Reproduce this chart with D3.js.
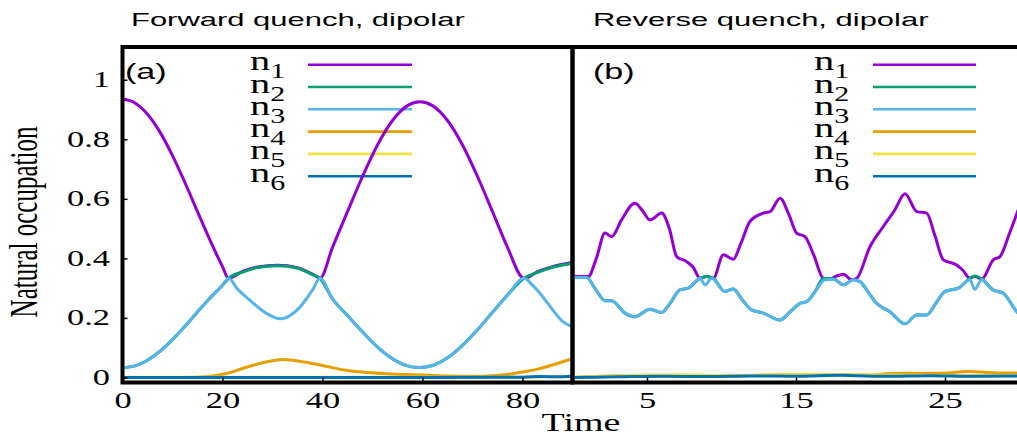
<!DOCTYPE html>
<html>
<head>
<meta charset="utf-8">
<script src="https://cdn.jsdelivr.net/npm/d3@7"></script>
<style>
body { margin: 0; background: #fff; }
svg { display: block; }
</style>
</head>
<body>
<div id="chart"></div>
<script>
// ---- data: panel (a) forward quench ----
var tA1 = [0,2.5,5,7.5,10,12.5,15,17.5,20,21.2,24,27,31,35,38,39.5,42,45,48,51,54,57,59.5,62,65,68,71,74,77,80.3,83,86,89.7];
var n1A = [0.935,0.922,0.884,0.824,0.745,0.654,0.557,0.461,0.372,0.333,0.356,0.371,0.377,0.369,0.347,0.333,0.437,0.557,0.675,0.781,0.863,0.913,0.926,0.913,0.863,0.781,0.675,0.557,0.437,0.333,0.355,0.372,0.385];
var tA2 = [0,2.5,5,7.5,10,12.5,15,17.5,20,21.2,24,27,31,35,38,39.5,42,45,48,51,54,57,59.5,62,65,68,71,74,77,80.3,83,86,89.7];
var n2A = [0.033,0.039,0.058,0.088,0.127,0.172,0.22,0.267,0.31,0.333,0.354,0.369,0.375,0.367,0.345,0.333,0.264,0.208,0.153,0.102,0.063,0.039,0.033,0.04,0.066,0.108,0.16,0.219,0.277,0.333,0.353,0.37,0.383];
var tA3 = [0,2.5,5,7.5,10,12.5,15,17.5,20,21.2,23,25.3,28.7,31.5,35.3,38,39.5,42,45,48,51,54,57,59.5,62,65,68,71,74,77,80.3,82,84,86,88,89.7];
var n3A = [0.033,0.039,0.058,0.088,0.127,0.172,0.22,0.267,0.31,0.333,0.297,0.262,0.216,0.197,0.233,0.294,0.333,0.264,0.208,0.153,0.102,0.063,0.039,0.033,0.04,0.066,0.108,0.16,0.219,0.277,0.333,0.31,0.272,0.228,0.188,0.172];
var tA4 = [0,10,15,18,21,24,27,30,32,34,37,40,44,48,52,56,60,65,70,74,77,80,83,86,89.7];
var n4A = [0,0,0.001,0.005,0.014,0.03,0.045,0.056,0.06,0.058,0.05,0.04,0.026,0.018,0.013,0.01,0.008,0.005,0.004,0.006,0.01,0.018,0.028,0.042,0.062];
var tA5 = [0,20,40,60,80,84,87,89.7];
var n5A = [0.001,0.001,0.001,0.001,0.001,0.002,0.002,0.003];
var n6A = [0,0,0,0,0.001,0.003,0.002,0.004];

// ---- data: panel (b) reverse quench ----
var tB1 = [0,1.06,1.6,2.18,2.63,3.3,4.19,4.7,5.2,5.98,6.5,6.99,7.66,8.1,8.56,9.0,9.45,10.12,10.79,11.3,11.91,12.81,13.26,13.93,14.5,15.04,15.6,16.2,16.83,17.28,17.7,18.18,18.74,19.07,19.97,20.86,21.6,22.32,23.1,23.77,24.3,24.89,25.78,26.2,26.68,27.0,27.46,28.24,28.69,29.3,30];
var n1B = [0.339,0.339,0.40,0.485,0.473,0.53,0.585,0.56,0.529,0.552,0.5,0.406,0.389,0.37,0.333,0.339,0.333,0.412,0.397,0.45,0.524,0.552,0.557,0.602,0.55,0.485,0.473,0.41,0.333,0.330,0.34,0.347,0.328,0.333,0.44,0.507,0.56,0.617,0.557,0.552,0.48,0.395,0.378,0.36,0.333,0.34,0.330,0.395,0.406,0.48,0.575];
var tB2 = [0,0.95,1.5,2.18,2.63,3.52,4.19,5.2,5.98,6.55,7.21,7.77,8.56,9.0,9.45,10.23,10.79,11.4,12.02,12.81,13.93,14.6,15.27,15.72,16.3,16.83,17.28,17.6,18.18,18.85,19.3,19.8,20.41,21.3,22.32,23.1,23.77,24.4,25.0,25.9,26.68,27.0,27.46,28.24,28.91,29.81,30];
var n2B = [0.336,0.336,0.30,0.258,0.258,0.216,0.204,0.229,0.218,0.249,0.294,0.3,0.333,0.339,0.333,0.289,0.297,0.26,0.227,0.216,0.193,0.22,0.249,0.255,0.29,0.332,0.332,0.33,0.311,0.328,0.322,0.29,0.249,0.221,0.18,0.21,0.21,0.25,0.289,0.3,0.333,0.341,0.331,0.294,0.283,0.221,0.21];
var tB3 = [0,0.95,1.5,2.18,2.63,3.52,4.19,5.2,5.98,6.55,7.21,7.77,8.56,8.9,9.34,10.23,10.79,11.4,12.02,12.81,13.93,14.6,15.27,15.72,16.3,16.94,17.5,18.18,18.85,19.3,19.8,20.41,21.3,22.32,23.1,23.77,24.4,25.0,25.9,26.68,27.0,27.46,28.24,28.91,29.81,30];
var n3B = [0.336,0.336,0.30,0.258,0.258,0.216,0.204,0.229,0.218,0.249,0.294,0.3,0.333,0.311,0.333,0.289,0.297,0.26,0.227,0.216,0.193,0.22,0.249,0.255,0.29,0.328,0.33,0.311,0.328,0.322,0.29,0.249,0.221,0.18,0.21,0.21,0.25,0.289,0.3,0.328,0.296,0.328,0.294,0.283,0.221,0.21];
var tB4 = [0,2,5,8,11,14,17,20,21,22.5,24,25.5,26.5,27.5,28.5,30];
var n4B = [0,0.004,0.007,0.007,0.006,0.009,0.009,0.008,0.012,0.014,0.014,0.016,0.02,0.018,0.015,0.015];
var tB5 = [0,2,5,8,11,14,17,20,23,26,30];
var n5B = [0,0.004,0.007,0.007,0.006,0.009,0.009,0.008,0.007,0.006,0.006];
var tB6 = [0,3,6,9,12,15,18,19,21,24,27,30];
var n6B = [0,0.002,0.004,0.003,0.005,0.004,0.007,0.006,0.004,0.006,0.004,0.005];

// ticks and labels
var seriesNames = ["1","2","3","4","5","6"];
var colors = ["#9400d3","#009e73","#56b4e9","#e69f00","#f0e442","#0072b2"];
var yTicks = [0,0.2,0.4,0.6,0.8,1];
var yTickLabels = ["0","0.2","0.4","0.6","0.8","1"];
var xTicksA = [0,20,40,60,80];
var xTicksB = [5,15,25];
var titles = ["Forward quench, dipolar","Reverse quench, dipolar"];
var panelTags = ["(a)","(b)"];

var width = 1017, height = 436;
var plotTop = 47, plotBottom = 382.5;
var SX = 1.5; // glyphs in the picture are stretched sideways
var serif = "'Liberation Serif','Times New Roman',serif";
var sans = "'Liberation Sans',Arial,sans-serif";

var svg = d3.select("#chart").append("svg")
    .attr("width", width)
    .attr("height", height);

var y = d3.scaleLinear().domain([-0.017, 1.11]).range([plotBottom, plotTop]);

var panels = [
  { x: d3.scaleLinear().domain([0, 90]).range([122.5, 572.5]), ticks: xTicksA,
    series: [[tA1,n1A],[tA2,n2A],[tA3,n3A],[tA4,n4A],[tA5,n5A],[tA5,n6A]],
    keyText: 250, keyLine: [308, 412], titleX: 131, tagX: 125 },
  { x: d3.scaleLinear().domain([0, 30]).range([572.5, 1019.5]), ticks: xTicksB,
    series: [[tB1,n1B],[tB2,n2B],[tB3,n3B],[tB4,n4B],[tB5,n5B],[tB6,n6B]],
    keyText: 814, keyLine: [873, 976], titleX: 593, tagX: 593 }
];

function stretched(g, x, yy, txt, size, family, anchor, sx) {
  return g.append("text")
    .attr("transform", "translate(" + x + "," + yy + ") scale(" + sx + ",1)")
    .attr("text-anchor", anchor)
    .style("font-family", family)
    .style("font-size", size + "px")
    .text(txt);
}

panels.forEach(function(p, pi) {
  var r = p.x.range();
  var g = svg.append("g");
  var clipId = "clip" + pi;
  svg.append("clipPath").attr("id", clipId).append("rect")
      .attr("x", r[0]).attr("y", plotTop).attr("width", r[1] - r[0]).attr("height", plotBottom - plotTop);

  // key
  var key = g.append("g");
  seriesNames.forEach(function(s, i) {
    var ly = 64.7 + i * 22.3;
    key.append("line")
        .attr("x1", p.keyLine[0]).attr("x2", p.keyLine[1])
        .attr("y1", ly).attr("y2", ly)
        .attr("stroke", colors[i]).attr("stroke-width", 2.6);
    var t = key.append("text")
        .attr("transform", "translate(" + p.keyText + "," + (ly + 5.5) + ") scale(" + SX + ",1)")
        .style("font-family", serif).style("font-size", "27px");
    t.append("tspan").text("n");
    t.append("tspan").attr("dy", 8).style("font-size", "20px").text(s);
  });

  // curves
  var line = d3.line()
      .x(function(d) { return p.x(d[0]); })
      .y(function(d) { return y(d[1]); })
      .curve(d3.curveMonotoneX);
  var curves = g.append("g").attr("clip-path", "url(#" + clipId + ")");
  p.series.forEach(function(s, i) {
    var pts = s[0].map(function(t, k) { return [t, s[1][k]]; });
    curves.append("path")
        .attr("d", line(pts))
        .attr("fill", "none")
        .attr("stroke", colors[i])
        .attr("stroke-width", 3)
        .attr("stroke-linejoin", "round");
  });

  // x axis
  var xa = g.append("g")
      .attr("transform", "translate(0," + plotBottom + ")")
      .call(d3.axisBottom(p.x).tickValues(p.ticks).tickFormat(d3.format("d"))
        .tickSizeInner(-5).tickSizeOuter(0));
  xa.select(".domain").remove();
  xa.selectAll("line").attr("stroke", "#000").attr("stroke-width", 1.5);
  xa.selectAll("text")
      .attr("y", null).attr("dy", null)
      .attr("transform", "translate(0,25.5) scale(" + SX + ",1)")
      .attr("fill", "#000")
      .style("font-family", serif).style("font-size", "23px");

  // frame
  g.append("rect")
      .attr("x", r[0]).attr("y", plotTop)
      .attr("width", r[1] - r[0]).attr("height", plotBottom - plotTop)
      .attr("fill", "none").attr("stroke", "#000").attr("stroke-width", 4);

  // title and tag
  stretched(svg, p.titleX, 26, titles[pi], 18, sans, "start", 1.72);
  stretched(svg, p.tagX, 79, panelTags[pi], 22, sans, "start", 1.55);
});

// y axis on the left panel
var ya = svg.append("g")
    .attr("transform", "translate(122.5,0)")
    .call(d3.axisLeft(y).tickValues(yTicks)
      .tickFormat(function(d, i) { return yTickLabels[i]; })
      .tickSizeInner(-5).tickSizeOuter(0));
ya.select(".domain").remove();
ya.selectAll("line").attr("stroke", "#000").attr("stroke-width", 1.5);
ya.selectAll("text")
    .attr("x", null).attr("dy", null)
    .attr("transform", "translate(-12.5,7) scale(" + SX + ",1)")
    .attr("fill", "#000")
    .style("font-family", serif).style("font-size", "23px");

// axis titles
stretched(svg, 581, 431, "Time", 25, serif, "middle", 1.52);
svg.append("text")
    .attr("transform", "translate(37,222) scale(1.6,1) rotate(-90)")
    .attr("text-anchor", "middle")
    .style("font-family", serif).style("font-size", "25px")
    .text("Natural occupation");
</script>
</body>
</html>
